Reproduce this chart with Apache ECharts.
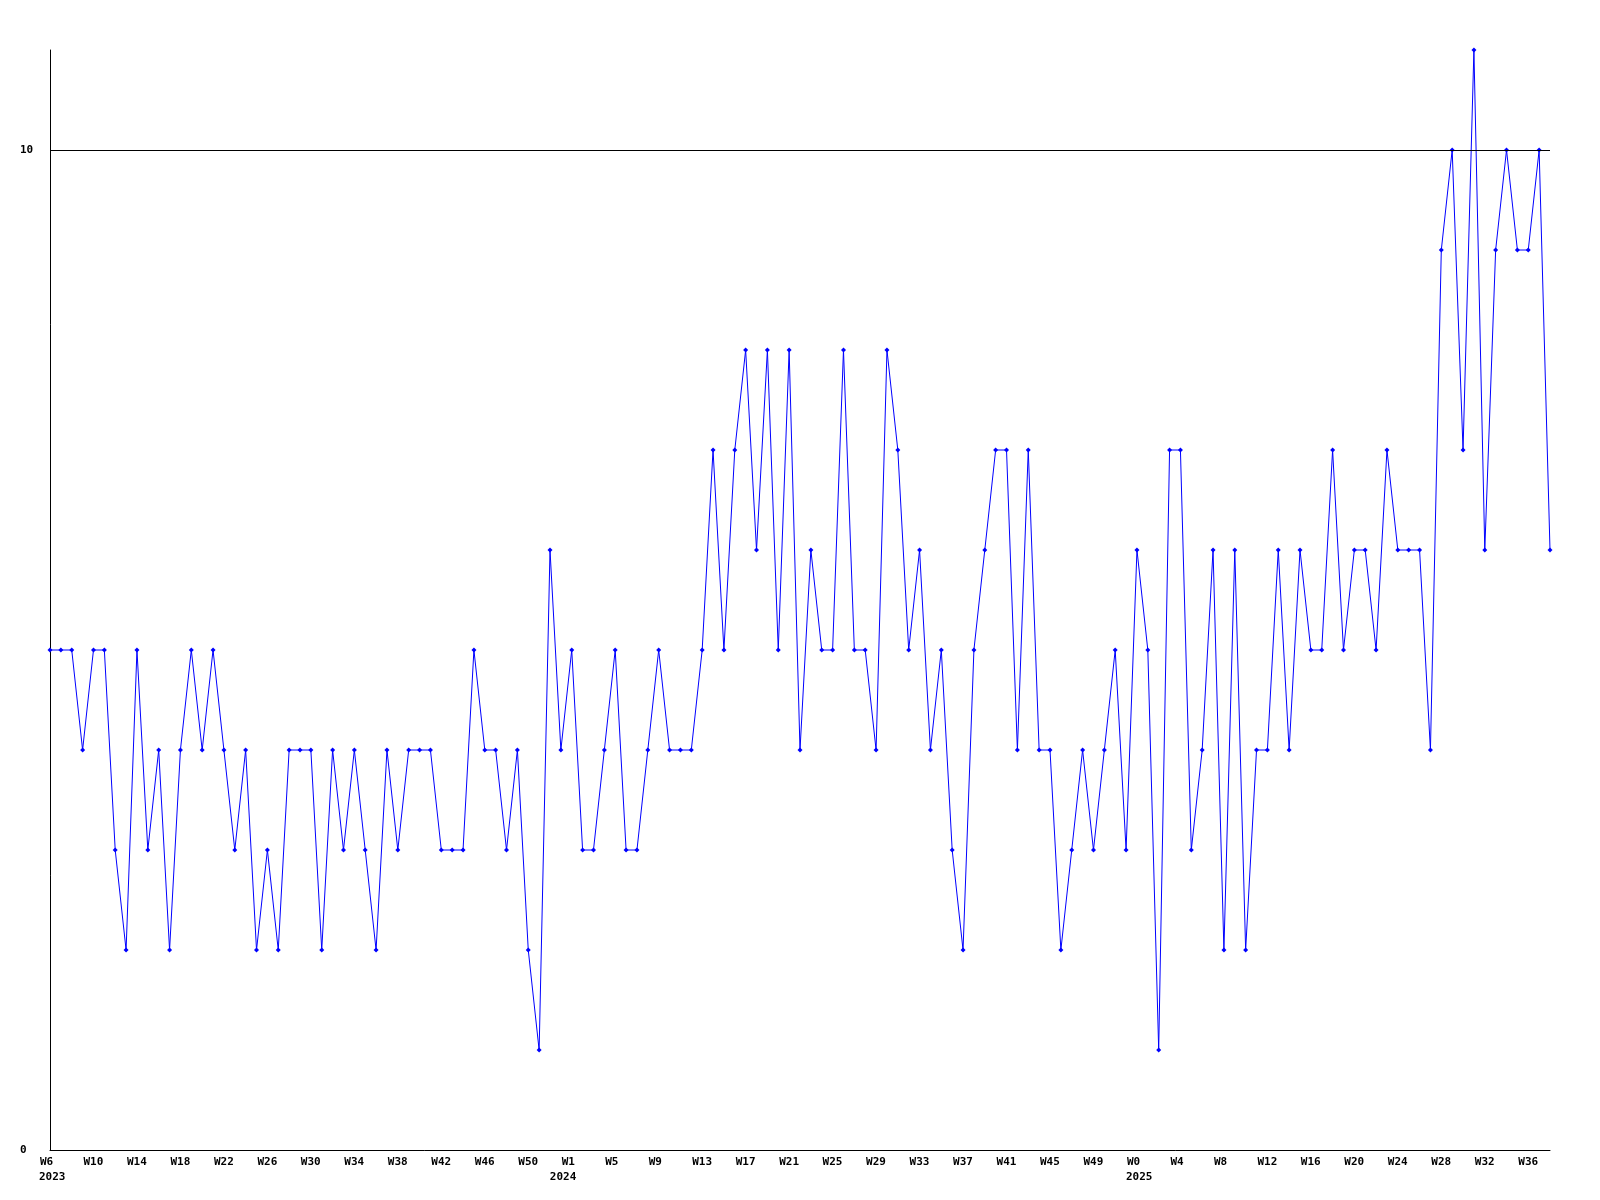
<!DOCTYPE html>
<html>
<head>
<meta charset="utf-8">
<script src="https://cdn.jsdelivr.net/npm/echarts@6/dist/echarts.min.js"></script>
<style>
html,body{margin:0;padding:0;background:#fff;}
#chart{width:1600px;height:1200px;}
</style>
</head>
<body>
<div id="chart"></div>
<script>
// Week categories (2023 W6 .. 2025 W38)
const weeks2023 = ['W6','W7','W8','W9','W10','W11','W12','W13','W14','W15','W16','W17','W18','W19','W20','W21','W22','W23','W24','W25','W26','W27','W28','W29','W30','W31','W32','W33','W34','W35','W36','W37','W38','W39','W40','W41','W42','W43','W44','W45','W46','W47','W48','W49','W50','W51','W52'];
const weeks2024 = ['W0','W1','W2','W3','W4','W5','W6','W7','W8','W9','W10','W11','W12','W13','W14','W15','W16','W17','W18','W19','W20','W21','W22','W23','W24','W25','W26','W27','W28','W29','W30','W31','W32','W33','W34','W35','W36','W37','W38','W39','W40','W41','W42','W43','W44','W45','W46','W47','W48','W49','W50','W51','W52'];
const weeks2025 = ['W0','W1','W2','W3','W4','W5','W6','W7','W8','W9','W10','W11','W12','W13','W14','W15','W16','W17','W18','W19','W20','W21','W22','W23','W24','W25','W26','W27','W28','W29','W30','W31','W32','W33','W34','W35','W36','W37','W38'];

// Week tick labels shown every 4th week
const tickLabels = ['W6','W10','W14','W18','W22','W26','W30','W34','W38','W42','W46','W50',
  'W1','W5','W9','W13','W17','W21','W25','W29','W33','W37','W41','W45','W49',
  'W0','W4','W8','W12','W16','W20','W24','W28','W32','W36'];
// Year labels (placed at the first week of each year)
const yearLabels = ['2023','2024','2025'];

// Weekly values
const values = [
  5,5,5,4,5,5,3,2,5,3,4,2,4,5,4,5,4,3,4,2,3,2,4,4,4,2,4,3,4,3,2,4,3,4,4,4,3,3,3,5,4,4,3,4,2,1,
  6,4,5,3,3,4,5,3,3,4,5,4,4,4,5,7,5,7,8,6,8,5,8,4,6,5,5,8,5,5,4,8,7,5,6,4,5,3,2,5,6,7,7,4,7,4,4,2,3,4,3,4,5,3,
  6,5,1,7,7,3,4,6,2,6,2,4,4,6,4,6,5,5,7,5,6,6,5,7,6,6,6,4,9,10,7,11,6,9,10,9,9,10,6
];

const categories = []
  .concat(weeks2023.map(w => yearLabels[0] + ' ' + w))
  .concat(weeks2024.map(w => yearLabels[1] + ' ' + w))
  .concat(weeks2025.map(w => yearLabels[2] + ' ' + w));

function isYearStart(idx) {
  return idx === 0 || categories[idx].slice(0, 4) !== categories[idx - 1].slice(0, 4);
}

const chart = echarts.init(document.getElementById('chart'), null, {renderer: 'canvas'});
const labelFont = {fontFamily: 'DejaVu Sans Mono', fontWeight: 'bold', fontSize: 11, color: '#000'};

chart.setOption({
  animation: false,
  backgroundColor: '#fff',
  grid: {left: 50, right: 50, top: 50, bottom: 50, containLabel: false},
  xAxis: [{
    type: 'category',
    data: categories,
    boundaryGap: false,
    axisLine: {show: true, lineStyle: {color: '#000', width: 1}},
    axisTick: {show: false},
    splitLine: {show: false},
    axisLabel: Object.assign({
      interval: function (idx) { return idx % 4 === 0; },
      formatter: function (val, idx) { return tickLabels[Math.floor(idx / 4)] || ''; },
      margin: 6,
      lineHeight: 12,
      align: 'left',
      padding: [0, 0, 0, -10]
    }, labelFont)
  }, {
    type: 'category',
    data: categories,
    boundaryGap: false,
    position: 'bottom',
    axisLine: {show: false},
    axisTick: {show: false},
    splitLine: {show: false},
    axisLabel: Object.assign({
      interval: function (idx) { return isYearStart(idx); },
      formatter: function (val) { return val.slice(0, 4); },
      margin: 21,
      lineHeight: 12,
      align: 'left',
      padding: [0, 0, 0, -11]
    }, labelFont)
  }],
  yAxis: {
    type: 'value',
    min: 0,
    max: 11,
    interval: 10,
    axisLine: {show: true, lineStyle: {color: '#000', width: 1}},
    axisTick: {show: false},
    splitLine: {show: false},
    axisLabel: Object.assign({
      margin: 30,
      align: 'left',
      showMaxLabel: false
    }, labelFont)
  },
  series: [{
    type: 'line',
    data: values,
    symbol: 'diamond',
    symbolSize: 5,
    showSymbol: true,
    lineStyle: {color: '#0000ff', width: 1},
    itemStyle: {color: '#0000ff'},
    emphasis: {disabled: true},
    markLine: {
      silent: true,
      symbol: 'none',
      label: {show: false},
      lineStyle: {color: '#000', width: 1, type: 'solid'},
      emphasis: {disabled: true},
      data: [{yAxis: 10}]
    },
    z: 3
  }]
});
</script>
</body>
</html>
